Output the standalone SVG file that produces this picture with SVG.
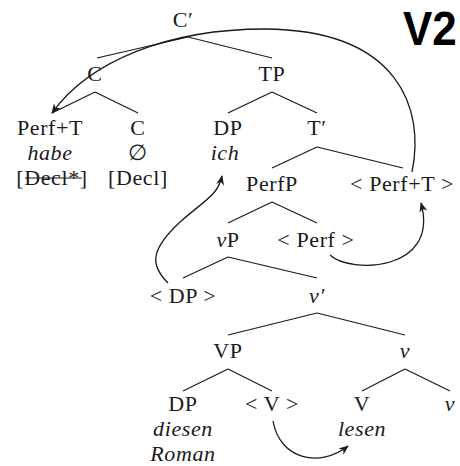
<svg xmlns="http://www.w3.org/2000/svg" width="460" height="466" viewBox="0 0 460 466">
<defs>
<style>
text{font-family:"Liberation Serif","DejaVu Serif",serif;font-size:22px;letter-spacing:0.6px;fill:#1a1a1a;text-anchor:middle}
.i{font-style:italic}
.t line{stroke:#1a1a1a;stroke-width:1.2}
.a path{fill:none;stroke:#1a1a1a;stroke-width:1.3}
.v2{font-family:"Liberation Sans","DejaVu Sans",sans-serif;font-weight:bold;font-size:44px;letter-spacing:0;fill:#000;text-anchor:start}
</style>
<marker id="ah" viewBox="0 0 10 10" refX="9" refY="5" markerWidth="10" markerHeight="10" markerUnits="userSpaceOnUse" orient="auto">
<path d="M0,1 L10,5 L0,9 L3,5 Z" fill="#1a1a1a"/>
</marker>
</defs>
<rect width="460" height="466" fill="#fff"/>
<text class="v2" transform="translate(403,45) scale(1,1.1)" x="0" y="0">V2</text>
<g class="t" id="edges-tree">
<line x1="188" y1="37" x2="97" y2="58"/>
<line x1="188" y1="37" x2="272" y2="58"/>
<line x1="95" y1="92" x2="52" y2="113"/>
<line x1="95" y1="92" x2="138" y2="113"/>
<line x1="272" y1="92" x2="228" y2="113"/>
<line x1="272" y1="92" x2="317" y2="113"/>
<line x1="317" y1="147" x2="272" y2="168"/>
<line x1="317" y1="147" x2="403" y2="168"/>
<line x1="272" y1="202" x2="228" y2="223"/>
<line x1="272" y1="202" x2="317" y2="223"/>
<line x1="228" y1="257" x2="183" y2="278"/>
<line x1="228" y1="257" x2="317" y2="278"/>
<line x1="317" y1="313" x2="228" y2="335"/>
<line x1="317" y1="313" x2="405" y2="335"/>
<line x1="228" y1="369" x2="183" y2="391"/>
<line x1="228" y1="369" x2="272" y2="391"/>
<line x1="405" y1="369" x2="362" y2="391"/>
<line x1="405" y1="369" x2="450" y2="391"/>
</g>
<g class="a" id="connectors">
<path d="M412,172 C425,110 400,30 265,29 C170,29 90,60 52,113" marker-end="url(#ah)"/>
<path d="M330,255 C350,274 440,272 421,203" marker-end="url(#ah)"/>
<path d="M168,283 C150,265 150,250 180,222 C205,200 218,195 222,176" marker-end="url(#ah)"/>
<path d="M273,421 C280,460 320,468 348,446" marker-end="url(#ah)"/>
</g>
<g id="n-Cbar"><text x="183" y="27">C′</text></g>
<g id="n-C"><text x="95" y="81">C</text></g>
<g id="n-TP"><text x="272" y="81">TP</text></g>
<g id="n-PerfT">
<text x="50" y="135">Perf+T</text>
<text class="i" x="50" y="160">habe</text>
<text x="52" y="185">[Decl*]</text>
<line x1="25" y1="178" x2="82" y2="178" stroke="#1a1a1a" stroke-width="1.2"/>
</g>
<g id="n-C0">
<text x="138" y="135">C</text>
<text x="138" y="160">∅</text>
<text x="138" y="185">[Decl]</text>
</g>
<g id="n-DP1">
<text x="228" y="135">DP</text>
<text class="i" x="225" y="160">ich</text>
</g>
<g id="n-Tbar"><text x="317" y="135">T′</text></g>
<g id="n-PerfP"><text x="272" y="191">PerfP</text></g>
<g id="n-PerfTt"><text x="402" y="191">&lt; Perf+T &gt;</text></g>
<g id="n-vP"><text x="228" y="247"><tspan class="i">v</tspan>P</text></g>
<g id="n-Perft"><text x="316" y="247">&lt; Perf &gt;</text></g>
<g id="n-DPt"><text x="183" y="303">&lt; DP &gt;</text></g>
<g id="n-vbar"><text class="i" x="317" y="303">v′</text></g>
<g id="n-VP"><text x="228" y="358">VP</text></g>
<g id="n-v1"><text class="i" x="405" y="358">v</text></g>
<g id="n-DP2">
<text x="183" y="411">DP</text>
<text class="i" x="183" y="436">diesen</text>
<text class="i" x="183" y="461">Roman</text>
</g>
<g id="n-Vt"><text x="272" y="411">&lt; V &gt;</text></g>
<g id="n-V">
<text x="362" y="411">V</text>
<text class="i" x="362" y="436">lesen</text>
</g>
<g id="n-v2"><text class="i" x="450" y="411">v</text></g>
</svg>
